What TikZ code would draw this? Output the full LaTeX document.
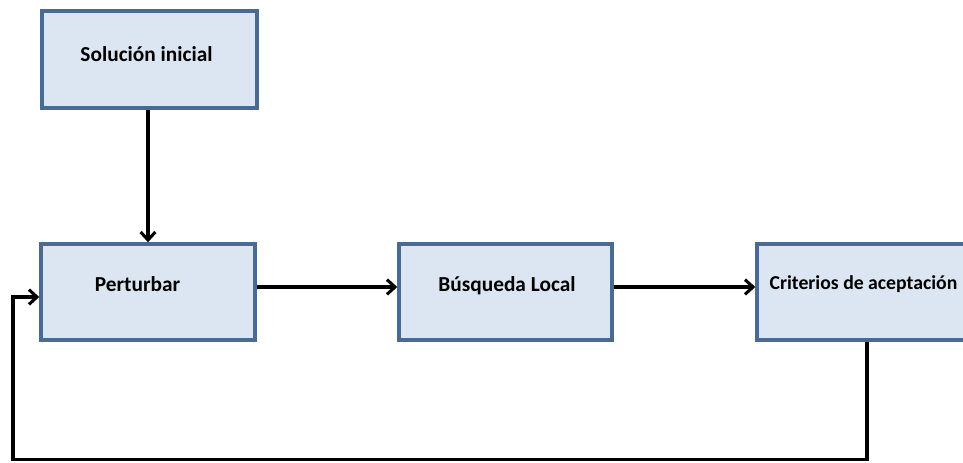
\documentclass[tikz,border=0pt]{standalone}
\usepackage{fontspec}
\setmainfont{Carlito}
\usetikzlibrary{arrows.meta}
\definecolor{boxfill}{HTML}{DCE6F2}
\definecolor{boxline}{HTML}{4A6A91}
\tikzset{
  procbox/.style={draw=boxline, fill=boxfill, line width=2.6pt, inner sep=0pt},
  lbl/.style={anchor=base, inner sep=0pt, font=\fontsize{16}{19}\selectfont\bfseries},
  conn/.style={line width=2.6pt, -{Straight Barb[length=6pt,width=11pt,line width=2.3pt]}}
}
\begin{document}
\begin{tikzpicture}[x=0.75pt,y=-0.75pt]
\useasboundingbox (0,0) rectangle (963,462);
\clip (0,0) rectangle (963,462);
\node[procbox, minimum width=215*0.75pt, minimum height=97*0.75pt] (sol) at (149.5,59.5) {};
\node[procbox, minimum width=214*0.75pt, minimum height=96*0.75pt] (pert) at (148,292) {};
\node[procbox, minimum width=213*0.75pt, minimum height=96*0.75pt] (bus) at (505.5,292) {};
\node[procbox, minimum width=220*0.75pt, minimum height=96*0.75pt] (crit) at (867,292) {};
\node[lbl] (tsol) at (146.5,61.5) {Solución inicial};
\node[lbl] (tpert) at (137.5,291.5) {Perturbar};
\node[lbl] (tbus) at (507,291.5) {Búsqueda Local};
\node[lbl, font=\fontsize{14.8}{18}\selectfont\bfseries] (tcrit) at (863.5,289) {Criterios de aceptación};
\coordinate (fbR) at (867,459.5);
\coordinate (fbL) at (13,459.5);
\draw[conn] (sol.south -| pert.north) -- (pert.north);
\draw[conn] ([yshift=3.75pt]pert.east) -- ([yshift=3.75pt]bus.west);
\draw[conn] ([yshift=3.75pt]bus.east) -- ([yshift=3.75pt]crit.west);
\draw[conn] (crit.south) -- (fbR) -- (fbL) |- ([yshift=-3.75pt]pert.west);
\end{tikzpicture}
\end{document}
